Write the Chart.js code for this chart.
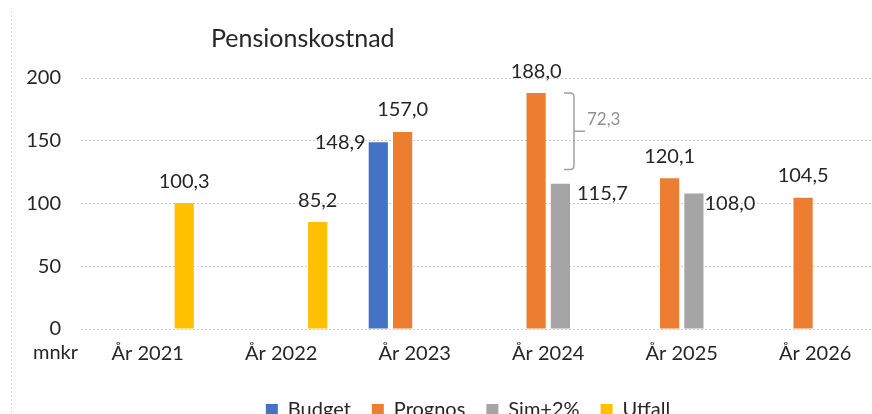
<!DOCTYPE html>
<html>
<head>
<meta charset="utf-8">
<script src="https://cdn.jsdelivr.net/npm/chart.js@4"></script>
<style>
  html, body { margin: 0; padding: 0; background: #ffffff; overflow: hidden; width: 872px; height: 414px; }
  #wrap { position: absolute; left: 0; top: 0; width: 882px; height: 430px; }
</style>
</head>
<body>
<div id="wrap"><canvas id="c" width="882" height="430"></canvas></div>
<script>
const categories = ['År 2021', 'År 2022', 'År 2023', 'År 2024', 'År 2025', 'År 2026'];
const budget  = [null, null, 148.9, null, null, null];
const prognos = [null, null, 157.0, 188.0, 120.1, 104.5];
const sim     = [null, null, null, 115.7, 108.0, null];
const utfall  = [100.3, 85.2, null, null, null, null];
const seriesNames = ['Budget', 'Prognos', 'Sim+2%', 'Utfall'];
const yTicks = [0, 50, 100, 150, 200];
const titleText = 'Pensionskostnad';
const unitText = 'mnkr';
// bracket annotation between Prognos and Sim+2% in År 2024 (value space)
const bracketIndex = 3;
const bracketBottomValue = 127;

const FONT = 'Lato, "Open Sans", sans-serif';
const TEXT = '#262626';
const fmt = v => v.toFixed(1).replace('.', ',');

// label placement overrides: key = datasetIndex + '_' + index
const labelPlace = {
  '0_2': { mode: 'left', dx: -3, dy: 0 },
  '2_3': { mode: 'right', dx: 7, dy: 10 },
  '2_4': { mode: 'right', dx: 1, dy: 10 }
};

const extras = {
  id: 'extras',
  afterLayout(chart) {
    chart.legend.left += 27;
    chart.legend.right += 27;
  },
  afterDatasetsDraw(chart) {
    const ctx = chart.ctx;
    ctx.save();
    ctx.font = '20px ' + FONT;
    ctx.fillStyle = TEXT;
    chart.data.datasets.forEach((ds, di) => {
      const meta = chart.getDatasetMeta(di);
      meta.data.forEach((bar, i) => {
        const v = ds.data[i];
        if (v === null || v === undefined) return;
        const p = labelPlace[di + '_' + i];
        const half = bar.width / 2;
        ctx.textBaseline = 'middle';
        if (!p) {
          ctx.textAlign = 'center';
          ctx.fillText(fmt(v), bar.x, bar.y - 22);
        } else if (p.mode === 'left') {
          ctx.textAlign = 'right';
          ctx.fillText(fmt(v), bar.x - half + p.dx, bar.y + p.dy);
        } else {
          ctx.textAlign = 'left';
          ctx.fillText(fmt(v), bar.x + half + p.dx, bar.y + p.dy);
        }
      });
    });
    ctx.restore();
  },
  afterDraw(chart) {
    const ctx = chart.ctx;
    const y = chart.scales.y;
    ctx.save();
    // left frame (dotted)
    ctx.strokeStyle = '#d9d9d9';
    ctx.lineWidth = 1;
    ctx.setLineDash([2, 2]);
    ctx.beginPath();
    ctx.moveTo(11.5, 11);
    ctx.lineTo(11.5, 430);
    ctx.stroke();
    ctx.setLineDash([]);
    // title
    ctx.fillStyle = TEXT;
    ctx.font = '25px ' + FONT;
    ctx.textAlign = 'left';
    ctx.textBaseline = 'alphabetic';
    ctx.fillText(titleText, 211, 47);
    // unit
    ctx.font = '20px ' + FONT;
    ctx.textAlign = 'right';
    ctx.textBaseline = 'middle';
    ctx.fillText(unitText, 78, 353);
    // bracket
    const simBar = chart.getDatasetMeta(2).data[bracketIndex];
    const top = y.getPixelForValue(prognos[bracketIndex]);
    const bot = y.getPixelForValue(bracketBottomValue);
    const mid = (top + bot) / 2;
    const xv = simBar.x + simBar.width / 2 + 4;
    const xl = xv - 10;
    const r = 4;
    ctx.strokeStyle = '#a0a0a0';
    ctx.lineWidth = 1.5;
    ctx.beginPath();
    ctx.moveTo(xl, top);
    ctx.lineTo(xv - r, top);
    ctx.quadraticCurveTo(xv, top, xv, top + r);
    ctx.lineTo(xv, bot - r);
    ctx.quadraticCurveTo(xv, bot, xv - r, bot);
    ctx.lineTo(xl, bot);
    ctx.moveTo(xv, mid);
    ctx.lineTo(xv + 11, mid);
    ctx.stroke();
    ctx.fillStyle = '#8f8f8f';
    ctx.font = '17px ' + FONT;
    ctx.textAlign = 'left';
    ctx.textBaseline = 'alphabetic';
    ctx.fillText(fmt(prognos[bracketIndex] - sim[bracketIndex]), xv + 13, mid - 6);
    ctx.restore();
  }
};

new Chart(document.getElementById('c'), {
  type: 'bar',
  data: {
    labels: categories,
    datasets: [
      { label: seriesNames[0], data: budget,  backgroundColor: '#4472C4' },
      { label: seriesNames[1], data: prognos, backgroundColor: '#ED7D31' },
      { label: seriesNames[2], data: sim,     backgroundColor: '#A5A5A5' },
      { label: seriesNames[3], data: utfall,  backgroundColor: '#FFC000' }
    ]
  },
  options: {
    responsive: false,
    animation: false,
    devicePixelRatio: 1,
    layout: { padding: { top: 78, left: 0, right: 0, bottom: 0 } },
    datasets: { bar: { categoryPercentage: 0.728, barPercentage: 0.79, borderWidth: 0 } },
    scales: {
      x: {
        grid: { display: false, drawTicks: false },
        border: { display: false },
        ticks: { color: TEXT, font: { family: FONT, size: 20 }, padding: 13, maxRotation: 0, autoSkip: false },
        afterFit(s) { s.height = 50; }
      },
      y: {
        min: 0, max: 200,
        afterBuildTicks(s) { s.ticks = yTicks.map(v => ({ value: v })); },
        grid: { color: '#d0d0d0', drawTicks: false, lineWidth: 1 },
        border: { display: false, dash: [2, 2] },
        ticks: { color: TEXT, font: { family: FONT, size: 20 }, padding: 20 },
        afterFit(s) { s.width = 81; }
      }
    },
    plugins: {
      title: { display: false },
      tooltip: { enabled: false },
      legend: {
        position: 'bottom',
        labels: { color: TEXT, font: { family: FONT, size: 20 }, boxWidth: 12, boxHeight: 12, padding: 21 }
      }
    }
  },
  plugins: [extras]
});
</script>
</body>
</html>
